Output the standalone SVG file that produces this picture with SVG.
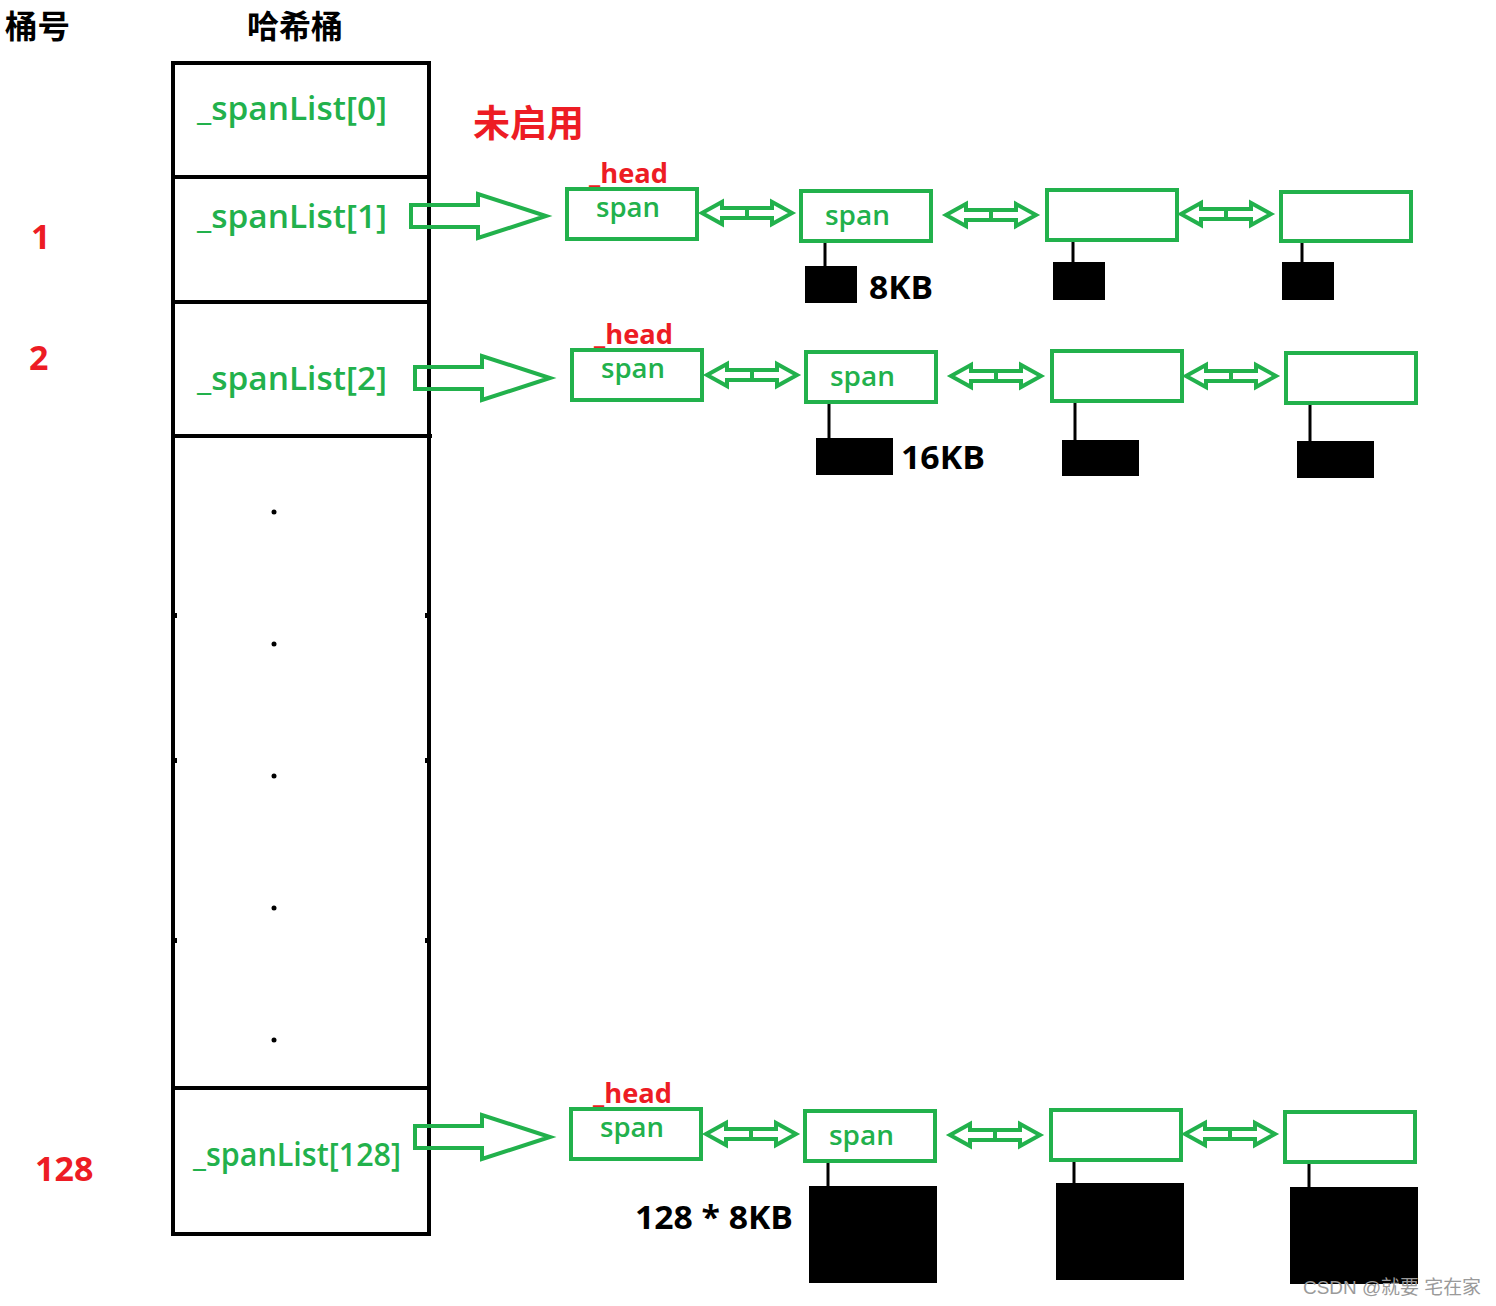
<svg xmlns="http://www.w3.org/2000/svg" width="1496" height="1306" viewBox="0 0 1496 1306">
<style>
.cjk{font-family:"Noto Sans CJK SC","Noto Sans",sans-serif;font-weight:700}
.lbl{font-family:"Open Sans","Noto Sans",sans-serif;font-weight:600;fill:#22b14c}
.red{font-family:"Open Sans","Noto Sans",sans-serif;font-weight:700;fill:#ed1c24}
.blk{font-family:"Open Sans","Noto Sans",sans-serif;font-weight:700;fill:#000}
.gbox{fill:#fff;stroke:#22b14c;stroke-width:4}
.bar{fill:none;stroke:#000;stroke-width:4}
.garrow{fill:none;stroke:#22b14c;stroke-width:4;stroke-linejoin:miter}
.stem{stroke:#000;stroke-width:3}
</style>
<defs>
<path id="big" d="M0,-11 L67,-11 L67,-22 L135,0 L67,22 L67,11 L0,11 Z"/>
<path id="dbl" d="M0,0 L20,-11 L20,-5 L70,-5 L70,-11 L90,0 L70,11 L70,5 L20,5 L20,11 Z M45,-5 L45,5"/>
</defs>
<rect width="1496" height="1306" fill="#fff"/>

<g id="titles">
<text class="cjk" x="5" y="38" font-size="32" textLength="65" lengthAdjust="spacingAndGlyphs">桶号</text>
<text class="cjk" x="247" y="37.5" font-size="31.5" textLength="96" lengthAdjust="spacingAndGlyphs">哈希桶</text>
<text class="cjk" x="473" y="137" font-size="37" fill="#ed1c24">未启用</text>
</g>

<g id="bucket-numbers">
<text class="red" x="31" y="249" font-size="34">1</text>
<text class="red" x="29" y="370" font-size="34">2</text>
<text class="red" x="35" y="1181" font-size="34">128</text>
</g>

<g id="hash-bucket">
<rect class="bar" x="173" y="63" width="256" height="1171"/>
<line class="bar" x1="173" y1="177" x2="429" y2="177"/>
<line class="bar" x1="173" y1="302" x2="429" y2="302"/>
<line class="bar" x1="173" y1="436" x2="432" y2="436"/>
<line class="bar" x1="173" y1="1088" x2="429" y2="1088"/>
<g fill="#000">
<rect x="173" y="613" width="4" height="5"/><rect x="425" y="613" width="4" height="5"/>
<rect x="173" y="758" width="4" height="5"/><rect x="425" y="758" width="4" height="5"/>
<rect x="173" y="938" width="4" height="5"/><rect x="425" y="938" width="4" height="5"/>
<circle cx="274" cy="512" r="2.5"/><circle cx="274" cy="644" r="2.5"/><circle cx="274" cy="776" r="2.5"/><circle cx="274" cy="908" r="2.5"/><circle cx="274" cy="1040" r="2.5"/>
</g>
<text class="lbl" x="197" y="120" font-size="32" textLength="190" lengthAdjust="spacingAndGlyphs">_spanList[0]</text>
<text class="lbl" x="197" y="228" font-size="32" textLength="190" lengthAdjust="spacingAndGlyphs">_spanList[1]</text>
<text class="lbl" x="197" y="390" font-size="32" textLength="190" lengthAdjust="spacingAndGlyphs">_spanList[2]</text>
<text class="lbl" x="193" y="1166" font-size="32" textLength="208" lengthAdjust="spacingAndGlyphs">_spanList[128]</text>
</g>

<g id="connectors">
<use href="#big" class="garrow" x="411" y="216"/>
<use href="#big" class="garrow" x="415" y="378"/>
<use href="#big" class="garrow" x="415" y="1137"/>
<use href="#dbl" class="garrow" x="702" y="213"/>
<use href="#dbl" class="garrow" x="946" y="215"/>
<use href="#dbl" class="garrow" x="1181" y="214"/>
<use href="#dbl" class="garrow" x="707" y="375"/>
<use href="#dbl" class="garrow" x="951" y="376"/>
<use href="#dbl" class="garrow" x="1186" y="376"/>
<use href="#dbl" class="garrow" x="706" y="1134"/>
<use href="#dbl" class="garrow" x="950" y="1135"/>
<use href="#dbl" class="garrow" x="1185" y="1134"/>
<line class="stem" x1="825" y1="241" x2="825" y2="267"/>
<line class="stem" x1="1073" y1="240" x2="1073" y2="263"/>
<line class="stem" x1="1302" y1="241" x2="1302" y2="263"/>
<line class="stem" x1="829" y1="402" x2="829" y2="439"/>
<line class="stem" x1="1075" y1="401" x2="1075" y2="441"/>
<line class="stem" x1="1310" y1="403" x2="1310" y2="442"/>
<line class="stem" x1="828" y1="1161" x2="828" y2="1187"/>
<line class="stem" x1="1074" y1="1160" x2="1074" y2="1184"/>
<line class="stem" x1="1309" y1="1162" x2="1309" y2="1188"/>
</g>

<g id="row1">
<g id="r1-head"><text class="red" x="589" y="183" font-size="26" textLength="79" lengthAdjust="spacingAndGlyphs">_head</text><rect class="gbox" x="567" y="189" width="130" height="50"/><text class="lbl" x="596" y="217" font-size="27" textLength="64" lengthAdjust="spacingAndGlyphs">span</text></g>
<g id="r1-n1"><rect class="gbox" x="801" y="191" width="130" height="50"/><text class="lbl" x="825" y="225" font-size="27" textLength="65" lengthAdjust="spacingAndGlyphs">span</text><rect x="805" y="266" width="52" height="37"/><text class="blk" x="869" y="299" font-size="32" textLength="64" lengthAdjust="spacingAndGlyphs">8KB</text></g>
<g id="r1-n2"><rect class="gbox" x="1047" y="190" width="130" height="50"/><rect x="1053" y="262" width="52" height="38"/></g>
<g id="r1-n3"><rect class="gbox" x="1281" y="192" width="130" height="49"/><rect x="1282" y="262" width="52" height="38"/></g>
</g>

<g id="row2">
<g id="r2-head"><text class="red" x="594" y="344" font-size="26" textLength="79" lengthAdjust="spacingAndGlyphs">_head</text><rect class="gbox" x="572" y="350" width="130" height="50"/><text class="lbl" x="601" y="378" font-size="27" textLength="64" lengthAdjust="spacingAndGlyphs">span</text></g>
<g id="r2-n1"><rect class="gbox" x="806" y="352" width="130" height="50"/><text class="lbl" x="830" y="386" font-size="27" textLength="65" lengthAdjust="spacingAndGlyphs">span</text><rect x="816" y="438" width="77" height="37"/><text class="blk" x="901" y="469" font-size="32" textLength="84" lengthAdjust="spacingAndGlyphs">16KB</text></g>
<g id="r2-n2"><rect class="gbox" x="1052" y="351" width="130" height="50"/><rect x="1062" y="440" width="77" height="36"/></g>
<g id="r2-n3"><rect class="gbox" x="1286" y="353" width="130" height="50"/><rect x="1297" y="441" width="77" height="37"/></g>
</g>

<g id="row128">
<g id="r128-head"><text class="red" x="593" y="1103" font-size="26" textLength="79" lengthAdjust="spacingAndGlyphs">_head</text><rect class="gbox" x="571" y="1109" width="130" height="50"/><text class="lbl" x="600" y="1137" font-size="27" textLength="64" lengthAdjust="spacingAndGlyphs">span</text></g>
<g id="r128-n1"><rect class="gbox" x="805" y="1111" width="130" height="50"/><text class="lbl" x="829" y="1145" font-size="27" textLength="65" lengthAdjust="spacingAndGlyphs">span</text><rect x="809" y="1186" width="128" height="97"/><text class="blk" x="635" y="1229" font-size="32" textLength="158" lengthAdjust="spacingAndGlyphs" xml:space="preserve">128 * 8KB</text></g>
<g id="r128-n2"><rect class="gbox" x="1051" y="1110" width="130" height="50"/><rect x="1056" y="1183" width="128" height="97"/></g>
<g id="r128-n3"><rect class="gbox" x="1285" y="1112" width="130" height="50"/><rect x="1290" y="1187" width="128" height="97"/></g>
</g>

<text x="1303" y="1294" font-family="Liberation Sans, Noto Sans CJK SC, sans-serif" font-size="19" fill="#9a9a9a" textLength="178" lengthAdjust="spacingAndGlyphs">CSDN @就要 宅在家</text>
</svg>
